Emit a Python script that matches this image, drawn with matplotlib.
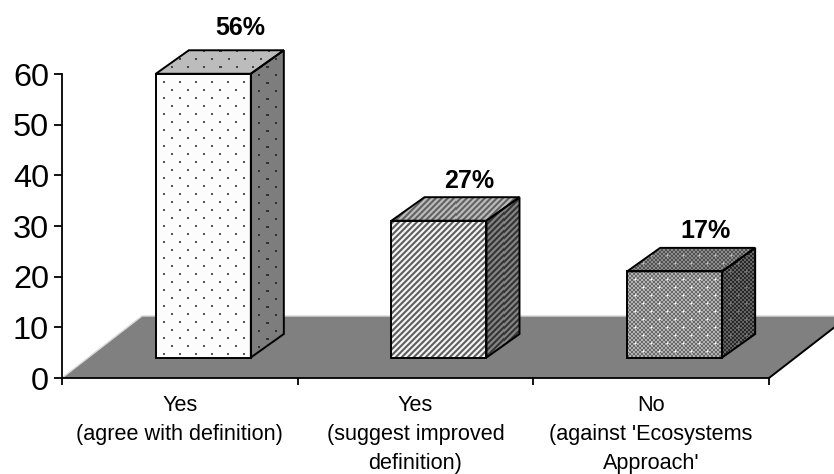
import numpy as np
import matplotlib
matplotlib.use("Agg")
import matplotlib.pyplot as plt
from matplotlib.patches import Polygon

plt.rcParams["font.family"] = ["Liberation Sans", "DejaVu Sans"]

# chart data
categories = ["Yes\n(agree with definition)",
              "Yes\n(suggest improved\ndefinition)",
              "No\n(against 'Ecosystems\nApproach'"]
values = [56, 27, 17]
value_labels = ["56%", "27%", "17%"]
y_ticks = [0, 10, 20, 30, 40, 50, 60]

# nudges for the percent labels, in pixels
label_nudge_x = [3.5, -2.5, -2.5]
label_nudge_y = [15, 9, 10]

W, H = 834, 474
AX_L, AX_R, AX_T, AX_B = 62, 769, 74, 378

fig = plt.figure(figsize=(W / 100, H / 100), dpi=100, facecolor="white")
ax = fig.add_axes([AX_L / W, (H - AX_B) / H, (AX_R - AX_L) / W, (AX_B - AX_T) / H])
ax.set_xlim(0, len(categories))
ax.set_ylim(0, 60)
ax.set_autoscale_on(False)

# pixel sizes turned into axis units
px_x = len(categories) / (AX_R - AX_L)
px_y = 60 / (AX_B - AX_T)
floor_dx, floor_dy = 80 * px_x, 62 * px_y
bar_w = 95 * px_x
shift_x, shift_y = 23.5 * px_x, 20.5 * px_y
depth_x, depth_y = 33 * px_x, 23.5 * px_y


def dot_mask(h, w, size):
    yy, xx = np.indices((h, w))
    row = yy // 8
    return ((xx + 8 * (row % 2)) % 16 < size) & (yy % 8 < size)


def dots(h, w, base, mark):
    img = np.full((h, w), float(base))
    img[dot_mask(h, w, 2)] = mark
    return img


def stripes(h, w, light, dark):
    yy, xx = np.indices((h, w))
    wave = 0.5 + 0.5 * np.cos(2 * np.pi * (xx + yy) / 6)
    return dark + (light - dark) * np.clip(wave * 1.3 - 0.15, 0, 1)


def dither(h, w, low, high, mark):
    yy, xx = np.indices((h, w))
    img = np.where((xx // 2 + yy // 2) % 2 == 0, float(low), float(high))
    # soft spots: a bright centre with a fainter cross around it
    centre = dot_mask(h, w, 1)
    arms = np.zeros((h, w))
    for axis, step in ((0, 1), (0, -1), (1, 1), (1, -1)):
        arms += np.roll(centre, step, axis=axis)
    img = img + (mark - img) * 0.55 * arms
    img[centre] = mark
    return img


# front, top and side textures of each bar
bar_faces = [
    (lambda h, w: dots(h, w, 252, 85),
     lambda h, w: dots(h, w, 188, 70),
     lambda h, w: dots(h, w, 125, 50)),
    (lambda h, w: stripes(h, w, 250, 90),
     lambda h, w: stripes(h, w, 190, 95),
     lambda h, w: stripes(h, w, 135, 50)),
    (lambda h, w: dither(h, w, 105, 180, 250),
     lambda h, w: dither(h, w, 80, 140, 195),
     lambda h, w: dither(h, w, 40, 100, 125)),
]


def textured(points, texture):
    pts = np.array(points)
    # snap the image to whole pixels so that the pattern stays regular
    i0, j0 = np.floor(pts.min(axis=0) / (px_x, px_y)).astype(int)
    i1, j1 = np.ceil(pts.max(axis=0) / (px_x, px_y)).astype(int)
    im = ax.imshow(texture(j1 - j0, i1 - i0), cmap="gray", vmin=0, vmax=255, aspect="auto",
                   extent=(i0 * px_x, i1 * px_x, j0 * px_y, j1 * px_y),
                   interpolation="nearest", zorder=3)
    im.set_clip_box(fig.bbox)
    im.set_clip_path(Polygon(points, closed=True, transform=ax.transData))
    ax.add_patch(Polygon(points, closed=True, fill=False, edgecolor="black",
                         linewidth=1.4, joinstyle="miter", clip_on=False, zorder=4))


# floor, running out past the right side of the figure
n = len(categories)
ax.add_patch(Polygon([(0, 0), (n, 0), (n + floor_dx, floor_dy), (floor_dx, floor_dy)],
                     closed=True, facecolor="#808080", edgecolor="none",
                     clip_on=False, zorder=1))
ax.plot([0, floor_dx, n + floor_dx], [0, floor_dy, floor_dy], color="#d8d8d8",
        linewidth=1, clip_on=False, zorder=2)
ax.plot([n, n + floor_dx], [0, floor_dy], color="black", linewidth=1.4,
        clip_on=False, zorder=2)

for i, v in enumerate(values):
    left = i + 0.5 - bar_w / 2 + shift_x
    right = left + bar_w
    base = shift_y
    top = base + v
    front, top_face, side = bar_faces[i]
    textured([(left, base), (right, base), (right, top), (left, top)], front)
    textured([(left, top), (right, top), (right + depth_x, top + depth_y),
              (left + depth_x, top + depth_y)], top_face)
    textured([(right, base), (right + depth_x, base + depth_y),
              (right + depth_x, top + depth_y), (right, top)], side)
    ax.text(left + bar_w / 2 + depth_x + label_nudge_x[i] * px_x,
            top + depth_y + label_nudge_y[i] * px_y, value_labels[i],
            ha="center", va="baseline", fontsize=18, fontweight="bold", clip_on=False)

# axes
for name in ("top", "right"):
    ax.spines[name].set_visible(False)
for name in ("left", "bottom"):
    ax.spines[name].set_linewidth(1.3)
    ax.spines[name].set_zorder(5)
ax.set_facecolor("none")
ax.set_yticks(y_ticks)
ax.set_xticks(range(n + 1))
ax.set_xticklabels([])
ax.tick_params(axis="y", labelsize=23.4, length=5.8, width=1.3, pad=3.5)
ax.tick_params(axis="x", length=5, width=1.3)

for i, label in enumerate(categories):
    ax.annotate(label, (i + 0.5, 0), xytext=(0, -12.5), textcoords="offset points",
                ha="center", va="top", fontsize=15.6, linespacing=1.48,
                annotation_clip=False)

fig.savefig("out.png", dpi=100)
